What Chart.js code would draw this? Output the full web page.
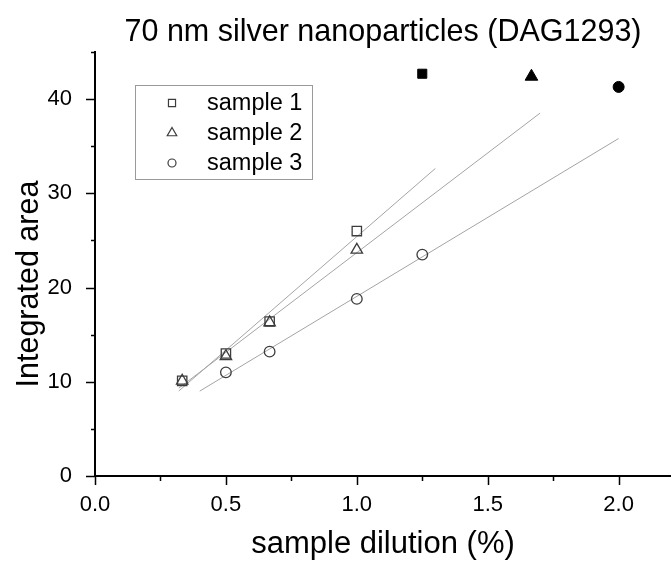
<!DOCTYPE html>
<html>
<head>
<meta charset="utf-8">
<script src="https://cdn.jsdelivr.net/npm/chart.js"></script>
<style>
  body { margin: 0; background: #fff; }
  #wrap { width: 671px; height: 562px; }
</style>
</head>
<body>
<div id="wrap"><canvas id="dilution" width="671" height="562"></canvas></div>
<script>
// measured points, dilution (%) vs integrated area
const sampleNames = ["sample 1", "sample 2", "sample 3"]
const dilution12 = [0.333, 0.5, 0.667, 1.0]
const dilution3 = [0.5, 0.667, 1.0, 1.25]
const area1 = [10.1, 13.0, 16.4, 26.0]
const area2 = [10.1, 12.7, 16.3, 24.0]
const area3 = [11.0, 13.2, 18.8, 23.5]

// x span of each fitted line
const fitRange1 = [0.32, 1.3]
const fitRange2 = [0.32, 1.7]
const fitRange3 = [0.4, 2.0]

// solid reference markers across the top
const refX = [1.25, 1.667, 2.0]
const refY = [42.7, 42.4, 41.3]

// tick positions; labels only on the major ones
const xTickValues = [0, 0.25, 0.5, 0.75, 1.0, 1.25, 1.5, 1.75, 2.0]
const xTicksMajor = 0.5
const yTicksMajor = 10

const FONT = "'Liberation Sans', Arial, sans-serif"
const markerColor = "#3c3c3c"
const fitColor = "#a4a4a4"

const toPoints = (xs, ys) => xs.map((x, i) => ({ x: x, y: ys[i] }))

// least squares line, evaluated at both ends of the range
const fitLine = (xs, ys, range) => {
  const n = xs.length
  const mx = xs.reduce((a, b) => a + b, 0) / n
  const my = ys.reduce((a, b) => a + b, 0) / n
  let sxx = 0
  let sxy = 0
  for (let i = 0; i < n; i++) {
    sxx += (xs[i] - mx) * (xs[i] - mx)
    sxy += (xs[i] - mx) * (ys[i] - my)
  }
  const k = sxy / sxx
  const b = my - k * mx
  return range.map((x) => ({ x: x, y: k * x + b }))
}

const sampleSet = (label, data, style, r) => ({
  label: label,
  data: data,
  showLine: false,
  pointStyle: style,
  pointRadius: r,
  pointHoverRadius: r,
  pointBorderColor: markerColor,
  pointBackgroundColor: "rgba(255,255,255,0)",
  pointBorderWidth: 1.3,
  order: 1,
})

const fitSet = (data) => ({
  label: "fit",
  data: data,
  showLine: true,
  borderColor: fitColor,
  borderWidth: 1,
  pointRadius: 0,
  order: 2,
})

const refSet = (i, style, r) => ({
  label: "ref",
  data: [{ x: refX[i], y: refY[i] }],
  showLine: false,
  pointStyle: style,
  pointRadius: r,
  pointHoverRadius: r,
  pointBorderColor: "#000",
  pointBackgroundColor: "#000",
  pointBorderWidth: 1,
})

const nearMultiple = (v, step) => Math.abs(v / step - Math.round(v / step)) < 1e-6

// no extra room for edge labels, the axes sit where afterFit puts them
const noEdgePadding = (scale) => {
  scale.paddingLeft = 0
  scale.paddingRight = 0
  scale.paddingTop = 0
  scale.paddingBottom = 0
}

// tick marks drawn outside the axes, long on major values and short on minor ones
const outerTicks = {
  id: "outerTicks",
  afterDraw(chart) {
    const ctx = chart.ctx
    const xs = chart.scales.x
    const ys = chart.scales.y
    ctx.save()
    ctx.strokeStyle = "#000"
    ctx.lineWidth = 1.5
    ctx.beginPath()
    xs.ticks.forEach((t) => {
      const px = Math.round(xs.getPixelForValue(t.value)) + 0.5
      const len = nearMultiple(t.value, xTicksMajor) ? 9 : 5
      ctx.moveTo(px, xs.top)
      ctx.lineTo(px, xs.top + len)
    })
    ys.ticks.forEach((t) => {
      const py = Math.round(ys.getPixelForValue(t.value)) + 0.5
      const len = nearMultiple(t.value, yTicksMajor) ? 9 : 4
      ctx.moveTo(ys.right, py)
      ctx.lineTo(ys.right - len, py)
    })
    ctx.stroke()
    ctx.restore()
  },
}

// vertical y-axis title, centred a little below the middle of the axis
const yTitle = {
  id: "yTitle",
  afterDraw(chart) {
    const ctx = chart.ctx
    const area = chart.chartArea
    ctx.save()
    ctx.translate(30, (area.top + area.bottom) / 2 + 20)
    ctx.rotate(-Math.PI / 2)
    ctx.font = "30.5px " + FONT
    ctx.fillStyle = "#000"
    ctx.textAlign = "center"
    ctx.textBaseline = "middle"
    ctx.fillText("Integrated area", 0, 0)
    ctx.restore()
  },
}

// boxed legend inside the plot area
const boxLegend = {
  id: "boxLegend",
  afterDraw(chart) {
    const ctx = chart.ctx
    const left = 135
    const top = 85
    const w = 177
    const h = 94
    ctx.save()
    ctx.fillStyle = "#fff"
    ctx.fillRect(left, top, w, h)
    ctx.strokeStyle = "#9a9a9a"
    ctx.lineWidth = 1
    ctx.strokeRect(left + 0.5, top + 0.5, w, h)
    const styles = ["rect", "triangle", "circle"]
    const radii = [5, 5.5, 4]
    ctx.font = "23.5px " + FONT
    ctx.textBaseline = "middle"
    sampleNames.forEach((name, i) => {
      const cy = top + 18 + i * 30
      ctx.strokeStyle = markerColor
      ctx.fillStyle = "rgba(255,255,255,0)"
      ctx.lineWidth = 1.2
      Chart.helpers.drawPoint(ctx, { pointStyle: styles[i], radius: radii[i], borderWidth: 1.2, rotation: 0 }, 37 + left, cy)
      ctx.fillStyle = "#000"
      ctx.fillText(name, left + 72, cy + 1)
    })
    ctx.restore()
  },
}

new Chart(document.getElementById("dilution"), {
  type: "scatter",
  data: {
    datasets: [
      fitSet(fitLine(dilution12, area1, fitRange1)),
      fitSet(fitLine(dilution12, area2, fitRange2)),
      fitSet(fitLine(dilution3, area3, fitRange3)),
      sampleSet(sampleNames[0], toPoints(dilution12, area1), "rect", 6.6),
      sampleSet(sampleNames[1], toPoints(dilution12, area2), "triangle", 6.6),
      sampleSet(sampleNames[2], toPoints(dilution3, area3), "circle", 5.3),
      refSet(0, "rect", 6.4),
      refSet(1, "triangle", 7.3),
      refSet(2, "circle", 5.5),
    ],
  },
  options: {
    responsive: false,
    animation: false,
    layout: { padding: 0, autoPadding: false },
    plugins: {
      legend: { display: false },
      tooltip: { enabled: false },
      title: {
        display: true,
        fullSize: false,
        text: "70 nm silver nanoparticles (DAG1293)",
        color: "#000",
        font: { family: FONT, size: 30.5, weight: "normal", lineHeight: 1.15 },
        padding: { top: 15, bottom: 2 },
      },
    },
    scales: {
      x: {
        type: "linear",
        min: 0,
        max: 2.2,
        grid: { display: false },
        border: { display: true, color: "#000", width: 2 },
        afterBuildTicks: (scale) => {
          scale.ticks = xTickValues.map((v) => ({ value: v }))
        },
        ticks: {
          autoSkip: false,
          maxRotation: 0,
          padding: 8,
          color: "#000",
          font: { family: FONT, size: 22 },
          callback: (v) => (nearMultiple(v, xTicksMajor) ? v.toFixed(1) : ""),
        },
        title: {
          display: true,
          text: "sample dilution (%)",
          color: "#000",
          font: { family: FONT, size: 31, lineHeight: 1.1 },
          padding: { top: 0, bottom: 0 },
        },
        afterFit: (scale) => {
          scale.height = 86
          noEdgePadding(scale)
        },
      },
      y: {
        type: "linear",
        min: 0,
        max: 45,
        grid: { display: false },
        border: { display: true, color: "#000", width: 2 },
        ticks: {
          stepSize: 5,
          autoSkip: false,
          padding: 15,
          color: "#000",
          font: { family: FONT, size: 22 },
          callback: (v) => (nearMultiple(v, yTicksMajor) ? String(v) : ""),
        },
        afterFit: (scale) => {
          scale.width = 95
          noEdgePadding(scale)
        },
      },
    },
  },
  plugins: [outerTicks, yTitle, boxLegend],
})
</script>
</body>
</html>
